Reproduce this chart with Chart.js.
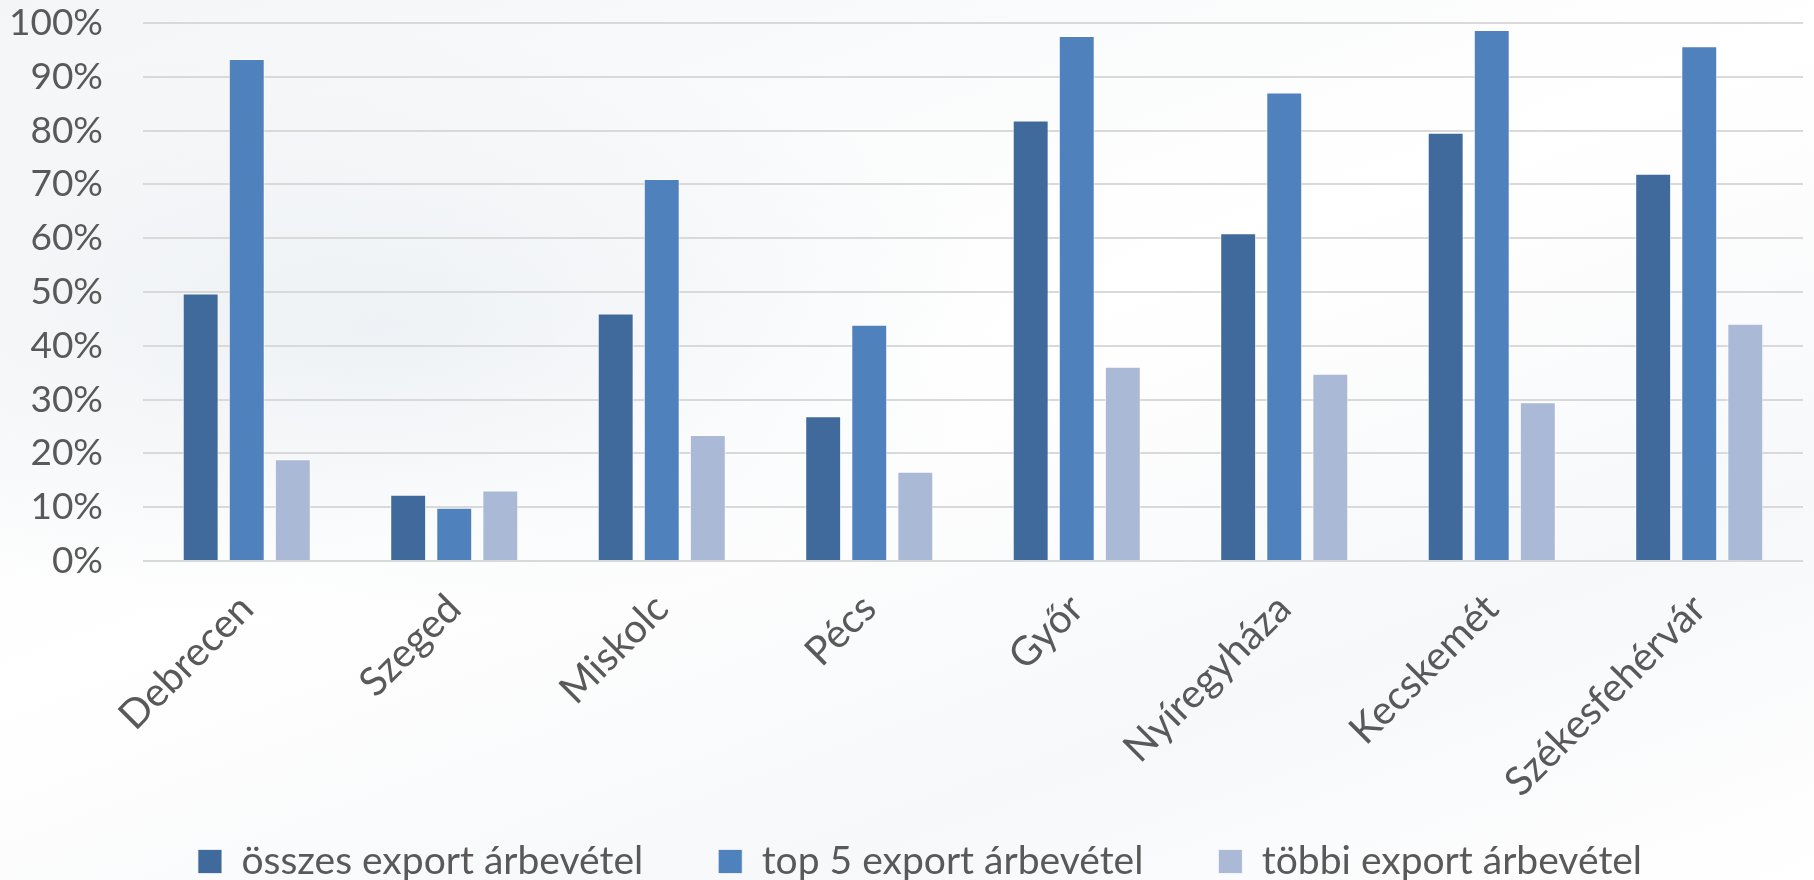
<!DOCTYPE html>
<html>
<head>
<meta charset="utf-8">
<script src="https://cdn.jsdelivr.net/npm/chart.js@4"></script>
<style>
  html, body { margin: 0; padding: 0; }
  body {
    width: 1814px; height: 880px; overflow: hidden;
    background:
      radial-gradient(ellipse 900px 420px at 380px 330px, rgba(226,232,238,0.5), rgba(255,255,255,0) 70%),
      linear-gradient(160deg, #f3f5f7 0%, #ffffff 45%, #f7f8fa 75%, #ffffff 100%);
  }
  #wrap { position: relative; width: 1814px; height: 880px; }
</style>
</head>
<body>
<div id="wrap"><canvas id="chart"></canvas></div>
<script>
// cities and the three shares
const cities = ['Debrecen', 'Szeged', 'Miskolc', 'Pécs', 'Győr', 'Nyíregyháza', 'Kecskemét', 'Székesfehérvár'];
const seriesNames = ['összes export árbevétel', 'top 5 export árbevétel', 'többi export árbevétel'];
const osszes = [49.7, 12.3, 46.0, 26.9, 81.9, 60.9, 79.6, 72.0];
const top5 = [93.3, 9.9, 71.0, 43.9, 97.6, 87.1, 98.7, 95.7];
const tobbi = [18.9, 13.1, 23.4, 16.6, 36.1, 34.8, 29.5, 44.1];
const yTicks = [0, 10, 20, 30, 40, 50, 60, 70, 80, 90, 100];

const colors = ['#3F6A9B', '#4F81BD', '#AAB9D6'];
const textColor = '#595959';
const fontFamily = 'Lato, "Open Sans", sans-serif';

// the legend reserves little room; move it to its place after layout
const legendPlace = {
  id: 'legendPlace',
  afterLayout(chart) {
    const lg = chart.legend;
    lg.top = 767;
    lg.bottom = 880;
    lg.height = 113;
    lg.left = 26;
    lg.right = 1814;
    lg.width = 1788;
  }
};

// no extra room around the plot for overhanging labels
const noPad = axis => {
  axis.paddingLeft = axis.paddingRight = axis.paddingTop = axis.paddingBottom = 0;
};

const ctx = document.getElementById('chart').getContext('2d');
new Chart(ctx, {
  type: 'bar',
  data: {
    labels: cities,
    datasets: [osszes, top5, tobbi].map((vals, i) => ({
      label: seriesNames[i],
      data: vals,
      backgroundColor: colors[i],
      borderColor: 'rgba(255,255,255,0.7)',
      borderWidth: 1,
      categoryPercentage: 0.666,
      barPercentage: 0.78
    }))
  },
  plugins: [legendPlace],
  options: {
    responsive: true,
    maintainAspectRatio: false,
    animation: false,
    layout: { padding: { left: 8, right: 11, top: 23, bottom: 0 } },
    plugins: {
      tooltip: { enabled: false },
      legend: {
        position: 'bottom',
        maxHeight: 40,
        labels: {
          color: textColor,
          font: { family: fontFamily, size: 39 },
          boxWidth: 24,
          boxHeight: 24,
          padding: 75
        }
      }
    },
    scales: {
      x: {
        grid: { display: false },
        border: { display: false },
        afterFit: axis => { axis.height = 279; noPad(axis); },
        ticks: {
          color: textColor,
          font: { family: fontFamily, size: 40 },
          minRotation: 45,
          maxRotation: 45,
          autoSkip: false,
          padding: 16
        }
      },
      y: {
        min: 0,
        max: 100,
        afterBuildTicks: axis => { axis.ticks = yTicks.map(v => ({ value: v })); },
        afterFit: axis => { axis.width = 135; noPad(axis); },
        grid: { color: '#d9d9d9', lineWidth: 2, drawTicks: false },
        border: { display: false },
        ticks: {
          color: textColor,
          font: { family: fontFamily, size: 37 },
          autoSkip: false,
          padding: 40,
          callback: v => v + '%'
        }
      }
    }
  }
});
</script>
</body>
</html>
